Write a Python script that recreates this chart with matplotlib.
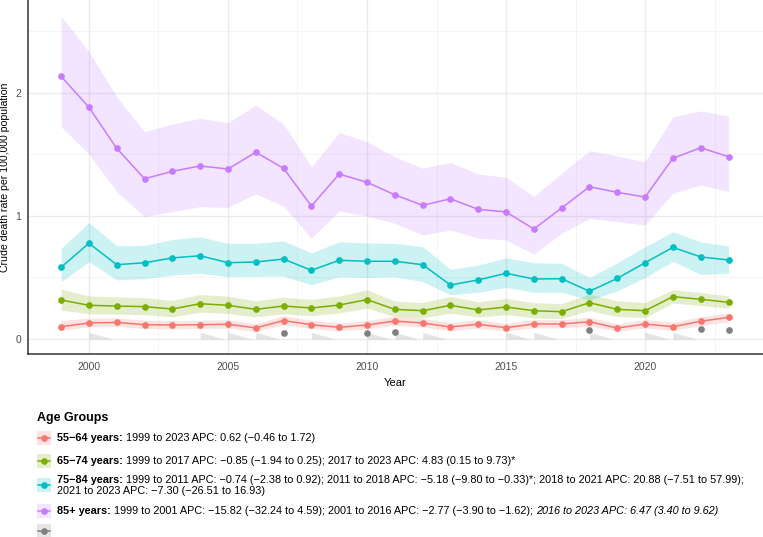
import matplotlib
matplotlib.use("Agg")
import matplotlib.pyplot as plt
from matplotlib.patches import Rectangle
from matplotlib.lines import Line2D
from matplotlib.ticker import MultipleLocator

plt.rcParams['font.family'] = ['Liberation Sans', 'DejaVu Sans']

years = list(range(1999, 2024))

# 55-64 years
r55 = [0.100, 0.130, 0.135, 0.116, 0.114, 0.116, 0.120, 0.090, 0.150, 0.116, 0.095, 0.114, 0.146,
       0.130, 0.098, 0.120, 0.092, 0.122, 0.122, 0.140, 0.089, 0.122, 0.100, 0.144, 0.176]
r55_lo = [0.072, 0.098, 0.102, 0.085, 0.083, 0.085, 0.088, 0.062, 0.115, 0.085, 0.066, 0.083, 0.112,
          0.098, 0.068, 0.088, 0.064, 0.090, 0.090, 0.106, 0.062, 0.090, 0.070, 0.110, 0.140]
r55_hi = [0.150, 0.170, 0.172, 0.152, 0.150, 0.152, 0.156, 0.124, 0.190, 0.152, 0.130, 0.150, 0.185,
          0.168, 0.134, 0.156, 0.126, 0.158, 0.158, 0.178, 0.122, 0.158, 0.136, 0.182, 0.212]

# 65-74 years
r65 = [0.317, 0.274, 0.268, 0.263, 0.244, 0.287, 0.274, 0.241, 0.268, 0.252, 0.276, 0.320, 0.241,
       0.230, 0.274, 0.236, 0.260, 0.230, 0.222, 0.295, 0.241, 0.230, 0.344, 0.323, 0.298]
r65_lo = [0.235, 0.205, 0.202, 0.198, 0.180, 0.218, 0.208, 0.180, 0.204, 0.190, 0.212, 0.250, 0.182,
          0.172, 0.210, 0.178, 0.198, 0.172, 0.166, 0.232, 0.182, 0.174, 0.292, 0.272, 0.250]
r65_hi = [0.405, 0.350, 0.342, 0.336, 0.314, 0.362, 0.348, 0.310, 0.340, 0.322, 0.350, 0.400, 0.308,
          0.296, 0.346, 0.302, 0.330, 0.296, 0.288, 0.365, 0.310, 0.296, 0.400, 0.378, 0.350]

# 75-84 years
r75 = [0.583, 0.778, 0.604, 0.620, 0.659, 0.677, 0.620, 0.626, 0.650, 0.558, 0.640, 0.632, 0.632,
       0.604, 0.439, 0.480, 0.534, 0.488, 0.490, 0.388, 0.493, 0.620, 0.745, 0.667, 0.642]
r75_lo = [0.466, 0.628, 0.480, 0.490, 0.520, 0.534, 0.507, 0.510, 0.512, 0.440, 0.507, 0.500, 0.507,
          0.466, 0.360, 0.380, 0.420, 0.380, 0.380, 0.317, 0.390, 0.500, 0.630, 0.525, 0.534]
r75_hi = [0.737, 0.946, 0.759, 0.760, 0.810, 0.830, 0.778, 0.778, 0.797, 0.700, 0.790, 0.780, 0.778,
          0.750, 0.567, 0.600, 0.660, 0.620, 0.615, 0.500, 0.620, 0.750, 0.872, 0.790, 0.756]

# 85+ years
r85 = [2.136, 1.884, 1.550, 1.303, 1.363, 1.407, 1.382, 1.518, 1.388, 1.081, 1.341, 1.274, 1.172,
       1.087, 1.140, 1.054, 1.033, 0.894, 1.065, 1.238, 1.192, 1.154, 1.469, 1.555, 1.482]
r85_lo = [1.726, 1.504, 1.198, 0.995, 1.035, 1.076, 1.070, 1.180, 1.080, 0.820, 1.040, 1.000, 0.940,
          0.846, 0.886, 0.820, 0.805, 0.690, 0.860, 0.980, 0.954, 0.927, 1.185, 1.252, 1.198]
r85_hi = [2.626, 2.336, 1.970, 1.685, 1.748, 1.794, 1.759, 1.900, 1.748, 1.400, 1.680, 1.604, 1.482,
          1.388, 1.436, 1.341, 1.315, 1.157, 1.347, 1.531, 1.488, 1.441, 1.807, 1.854, 1.813]

# unlabelled grey group
grey_years = [2007, 2010, 2011, 2018, 2022, 2023]
grey_vals = [0.05, 0.05, 0.06, 0.07, 0.08, 0.07]
grey_rib_years = [2000, 2004, 2005, 2006, 2008, 2010, 2011, 2012, 2015, 2016, 2018, 2020, 2021]
grey_rib_top = 0.055

colors = ['#F8766D', '#7CAE00', '#00BFC4', '#C77CFF']
series = [(r55, r55_lo, r55_hi), (r65, r65_lo, r65_hi), (r75, r75_lo, r75_hi), (r85, r85_lo, r85_hi)]

W, H = 763, 537
fig = plt.figure(figsize=(W / 100, H / 100), dpi=100)
ax = fig.add_axes([28 / W, (H - 354) / H, 1 - 28 / W, 354 / H])

for (v, lo, hi), c in zip(series, colors):
    ax.fill_between(years, lo, hi, color=c, alpha=0.2, linewidth=0)
    ax.plot(years, v, color=c, linewidth=1.1, marker='o', markersize=3.8, zorder=3)

for yr in grey_rib_years:
    ax.fill_between([yr, yr + 0.85], [0, 0], [grey_rib_top, 0], color='grey', alpha=0.2, linewidth=0)
ax.plot(grey_years, grey_vals, 'o', color='#7F7F7F', markersize=3.8, zorder=3)

ax.set_xlim(1997.81, 2024.24)
ax.set_ylim(-0.122, 2.756)
ax.xaxis.set_major_locator(MultipleLocator(5))
ax.xaxis.set_minor_locator(MultipleLocator(2.5))
ax.yaxis.set_major_locator(MultipleLocator(1))
ax.yaxis.set_minor_locator(MultipleLocator(0.5))
ax.grid(which='major', color='#EBEBEB', linewidth=1.0)
ax.grid(which='minor', color='#F2F2F2', linewidth=0.6)
ax.set_axisbelow(True)
ax.tick_params(which='both', length=0, labelsize=7.5, labelcolor='#4D4D4D')
ax.tick_params(axis='x', pad=6)
ax.tick_params(axis='y', pad=5)
for s in ['top', 'right']:
    ax.spines[s].set_visible(False)
for s in ['left', 'bottom']:
    ax.spines[s].set_color('#333333')
    ax.spines[s].set_linewidth(1.1)
ax.set_xlabel('Year', fontsize=8, labelpad=4)
ax.set_ylabel('Crude death rate per 100,000 population', fontsize=7.6)
ax.yaxis.set_label_coords((10 - 28) / (W - 28), 0.5)

# legend, drawn by hand because of mixed bold / italic labels
renderer = fig.canvas.get_renderer()
fs = 7.8


def put_pieces(x, y, pieces):
    for txt, weight, style in pieces:
        t = fig.text(x / W, 1 - y / H, txt, fontsize=fs, fontweight=weight, fontstyle=style,
                     va='center', ha='left')
        x += t.get_window_extent(renderer).width


fig.text(37 / W, 1 - 418 / H, 'Age Groups', fontsize=9, fontweight='bold', va='center', ha='left')

leg_labels = [
    [[('55\u221264 years:', 'bold', 'normal'), (' 1999 to 2023 APC: 0.62 (\u22120.46 to 1.72)', 'normal', 'normal')]],
    [[('65\u221274 years:', 'bold', 'normal'),
      (' 1999 to 2017 APC: \u22120.85 (\u22121.94 to 0.25); 2017 to 2023 APC: 4.83 (0.15 to 9.73)*', 'normal', 'normal')]],
    [[('75\u221284 years:', 'bold', 'normal'),
      (' 1999 to 2011 APC: \u22120.74 (\u22122.38 to 0.92); 2011 to 2018 APC: \u22125.18 (\u22129.80 to \u22120.33)*; '
       '2018 to 2021 APC: 20.88 (\u22127.51 to 57.99);', 'normal', 'normal')],
     [('2021 to 2023 APC: \u22127.30 (\u221226.51 to 16.93)', 'normal', 'normal')]],
    [[('85+ years:', 'bold', 'normal'),
      (' 1999 to 2001 APC: \u221215.82 (\u221232.24 to 4.59); 2001 to 2016 APC: \u22122.77 (\u22123.90 to \u22121.62); ', 'normal', 'normal'),
      ('2016 to 2023 APC: 6.47 (3.40 to 9.62)', 'normal', 'italic')]],
    [],
]
key_y = [438, 461, 485, 511, 531]
key_colors = colors + ['#7F7F7F']

for ky, kc, lab in zip(key_y, key_colors, leg_labels):
    fig.add_artist(Rectangle((37 / W, 1 - (ky + 7) / H), 14 / W, 14 / H, transform=fig.transFigure,
                             facecolor=kc, alpha=0.2, linewidth=0))
    fig.add_artist(Line2D([38 / W, 50 / W], [1 - ky / H, 1 - ky / H], transform=fig.transFigure,
                          color=kc, linewidth=1.1, marker=None))
    fig.add_artist(Line2D([44 / W], [1 - ky / H], transform=fig.transFigure, color=kc,
                          marker='o', markersize=3.8, linewidth=0))
    if len(lab) == 1:
        put_pieces(57, ky, lab[0])
    elif len(lab) == 2:
        put_pieces(57, ky - 5, lab[0])
        put_pieces(57, ky + 5.5, lab[1])

fig.savefig('out.png', dpi=100)
